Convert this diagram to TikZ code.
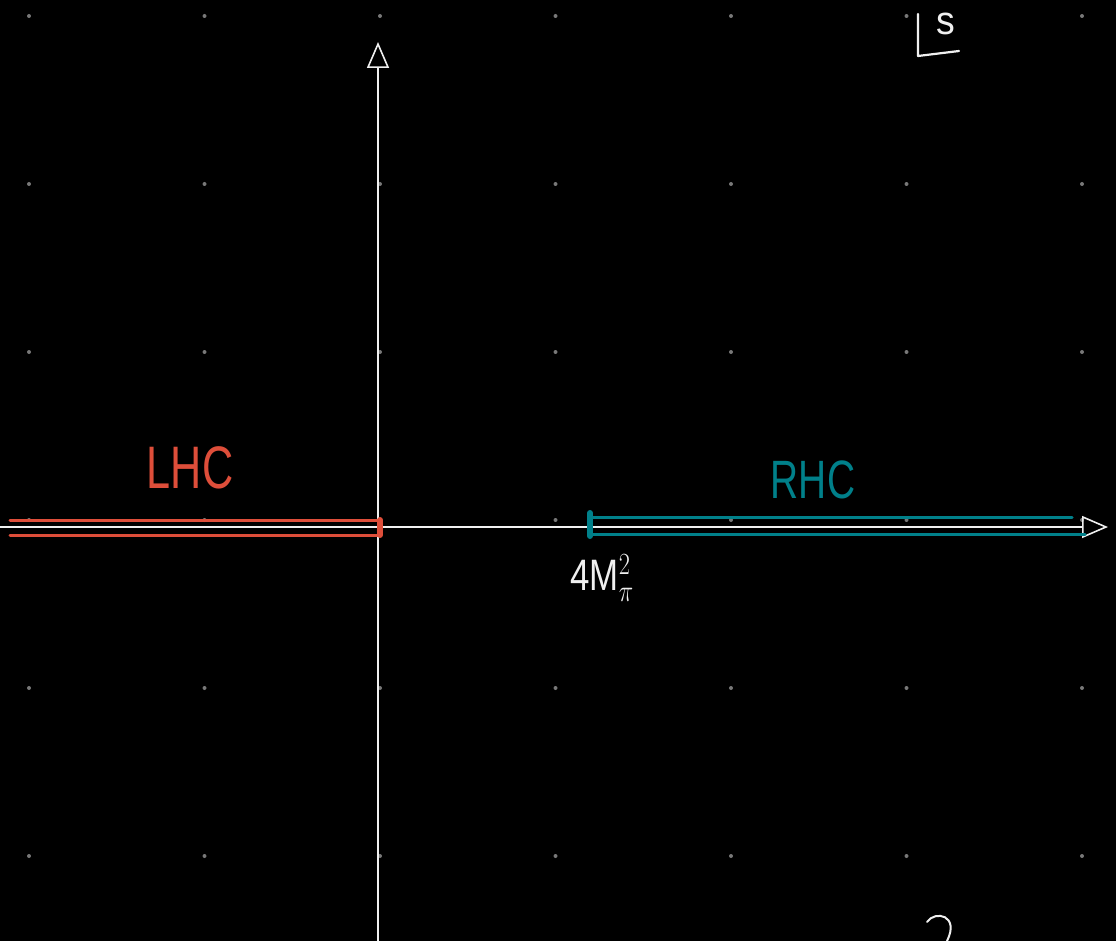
\RequirePackage{fix-cm}
\documentclass[tikz,border=0pt]{standalone}
\usepackage{fontspec}
\setmainfont{Liberation Sans}
\usetikzlibrary{arrows.meta}
\definecolor{boardcol}{RGB}{0,0,0}
\definecolor{dotcol}{RGB}{120,120,120}
\definecolor{inkcol}{RGB}{240,240,240}
\definecolor{lhccol}{RGB}{222,78,58}
\definecolor{rhccol}{RGB}{0,128,138}
\tikzset{
  % grid dot on the board
  griddot/.style={circle, fill=dotcol, inner sep=0pt, minimum size=4pt},
  % white axis with open tip
  axisline/.style={draw=inkcol, line width=1.6pt, -{Triangle[open,length=26pt,width=22pt,line width=1.6pt]}},
  % branch cut lines
  cutline/.style={draw=#1, line width=3pt, line cap=round},
  cutline/.default={lhccol},
  % end cap of a cut
  cutcap/.style={draw=#1, line width=6pt, line cap=round},
  cutcap/.default={lhccol},
  % hand labels
  handlabel/.style={font=\fontsize{#1}{#1}\selectfont, inner sep=0pt, xscale=0.72},
  handlabel/.default={60},
}

\begin{document}
\begin{tikzpicture}[x=1pt, y=-1pt]

  % ═══════ BOARD ═══════
  \fill[boardcol] (0,0) rectangle (1116,941);
  \useasboundingbox (0,0) rectangle (1116,941);
  \foreach \i in {0,...,6}
    \foreach \j in {0,...,5}
      \node[griddot] (d\i\j) at ({29+175.5*\i},{16+168*\j}) {};

  % ═══════ AXES ═══════
  \coordinate (O) at (378,527);
  \coordinate (ybot) at (378,941);
  \coordinate (ytop) at (378,42);
  \coordinate (xleft) at (0,527);
  \coordinate (xright) at (1108,527);
  \draw[axisline] (ybot) -- (ytop);
  \draw[axisline] (xleft) -- (xright);

  % ═══════ LEFT-HAND CUT ═══════
  \coordinate (l1) at (10,520);
  \coordinate (l2) at (380,520);
  \coordinate (l3) at (380,535);
  \coordinate (l4) at (10,535);
  \draw[cutline] (l1) -- (l2) -- (l3) -- (l4);
  \draw[cutcap] (l2) -- (l3);
  \node[handlabel, text=lhccol] (lhc) at (190,468) {LHC};

  % ═══════ RIGHT-HAND CUT ═══════
  \coordinate (r1) at (590,517);
  \coordinate (r2) at (1072,517);
  \coordinate (r3) at (590,534);
  \coordinate (r4) at (1085,534);
  \draw[cutline=rhccol] (r1) -- (r2);
  \draw[cutline=rhccol] (r3) -- (r4);
  \draw[cutcap=rhccol] ([yshift=4pt]r1) -- ([yshift=-2pt]r3);
  \node[handlabel=54, text=rhccol] (rhc) at (813,480) {RHC};
  \node[handlabel=44, text=inkcol, xscale=1.1] (thr) at (602,578) {4M$_{\pi}^{2}$};

  % ═══════ s-PLANE MARK ═══════
  \coordinate (c1) at (918,14);
  \coordinate (c2) at (918,56);
  \coordinate (c3) at (959,51);
  \draw[inkcol, line width=2.2pt, line cap=round, line join=round] (c1) -- (c2) -- (c3);
  \node[handlabel=40, text=inkcol, xscale=1.3] (s) at (946,24) {s};

  % cut-off stroke at the bottom
  \coordinate (q1) at (927,922);
  \coordinate (q2) at (947,941);
  \draw[inkcol, line width=2pt, line cap=round] (q1) .. controls (935,910) and (960,915) .. (q2);

\end{tikzpicture}
\end{document}
